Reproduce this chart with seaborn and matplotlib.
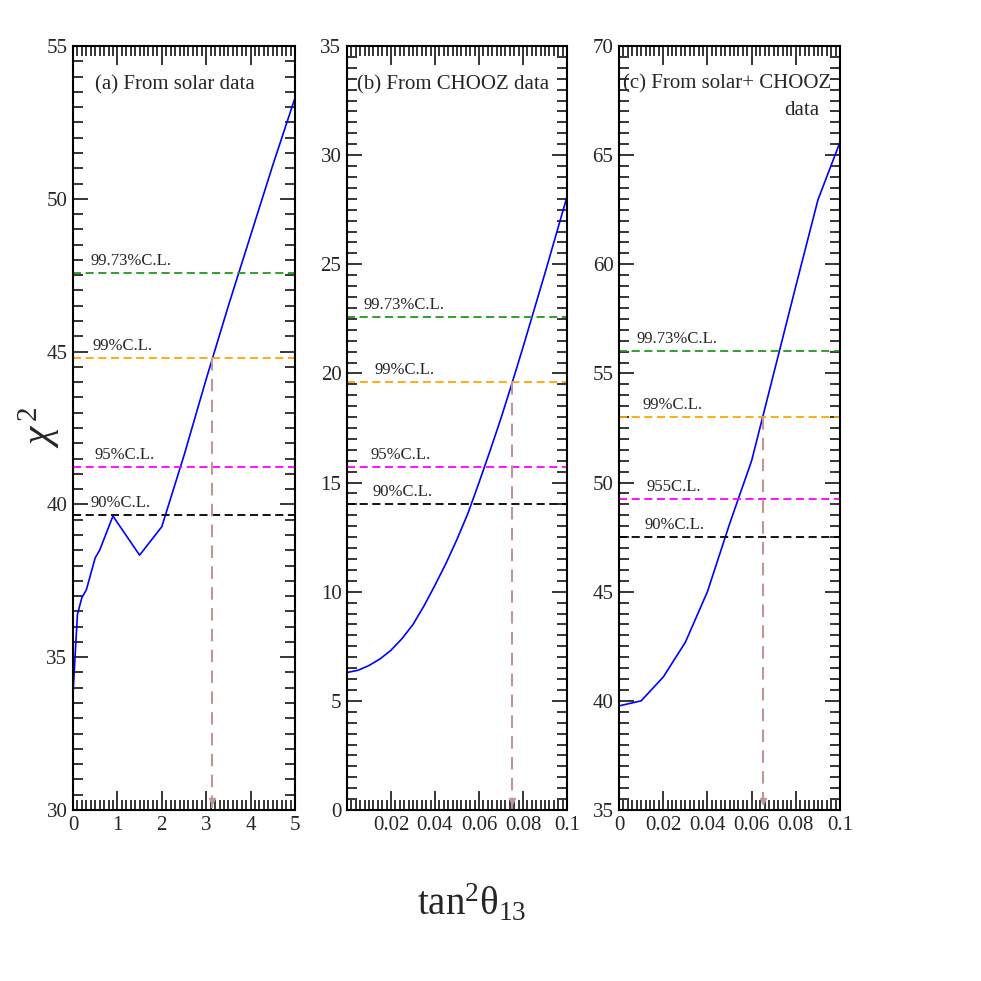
import matplotlib
matplotlib.use("Agg")
import matplotlib.pyplot as plt
import seaborn as sns
from matplotlib.ticker import MultipleLocator, FixedLocator

# (a) from solar data
x_solar = [0.0, 0.1, 0.2, 0.3, 0.5, 0.6, 0.9, 1.5, 2.0, 2.5, 3.0, 3.5, 4.0, 4.5, 5.0]
chi2_solar = [33.8, 36.4, 36.95, 37.2, 38.25, 38.5, 39.62, 38.34, 39.27, 41.6, 44.1, 46.5, 48.8, 51.1, 53.3]
cl_solar = [39.65, 41.23, 44.78, 47.58]
best_solar = 3.14

# (b) from CHOOZ data
x_chooz = [0.0, 0.005, 0.01, 0.015, 0.02, 0.025, 0.03, 0.035, 0.04, 0.045, 0.05,
           0.055, 0.06, 0.065, 0.07, 0.075, 0.08, 0.085, 0.09, 0.095, 0.1]
chi2_chooz = [6.30, 6.40, 6.62, 6.92, 7.32, 7.85, 8.5, 9.35, 10.3, 11.3, 12.4,
              13.6, 15.0, 16.45, 17.95, 19.55, 21.2, 22.9, 24.6, 26.35, 28.1]
cl_chooz = [14.0, 15.7, 19.6, 22.58]
best_chooz = 0.0752

# (c) from solar + CHOOZ data
x_comb = [0.0, 0.01, 0.02, 0.03, 0.04, 0.05, 0.06, 0.07, 0.08, 0.09, 0.1]
chi2_comb = [39.77, 40.0, 41.09, 42.68, 45.0, 48.1, 51.0, 55.0, 59.0, 62.95, 65.6]
cl_comb = [47.52, 49.23, 53.0, 56.03]
best_comb = 0.0653

cl_names = ["90%C.L.", "95%C.L.", "99%C.L.", "99.73%C.L."]
cl_names_comb = ["90%C.L.", "955C.L.", "99%C.L.", "99.73%C.L."]
cl_colors = ["black", "#ff00ff", "#ffa500", "#1f9a1f"]

xt_solar = [0, 1, 2, 3, 4, 5]
xt_chooz = [0.02, 0.04, 0.06, 0.08, 0.1]
xt_comb = [0, 0.02, 0.04, 0.06, 0.08, 0.1]

sns.set_style("ticks")
plt.rcParams["font.family"] = ["Liberation Serif", "DejaVu Serif"]
plt.rcParams["mathtext.fontset"] = "custom"
plt.rcParams["mathtext.rm"] = "Liberation Serif"
plt.rcParams["mathtext.it"] = "Liberation Serif:italic"

fig = plt.figure(figsize=(9.81, 9.81), dpi=100)

panels = [
    dict(rect=[0.0744, 0.1743, 0.2263, 0.7788], x=x_solar, y=chi2_solar, cl=cl_solar,
         names=cl_names, best=best_solar, xlim=(0, 5), ylim=(30, 55),
         xt=xt_solar, xminor=0.1, lab_x=[0.081, 0.095, 0.09, 0.077],
         title=[("(a) From solar data", 0.10, 0.949, "left")]),
    dict(rect=[0.3537, 0.1743, 0.2243, 0.7788], x=x_chooz, y=chi2_chooz, cl=cl_chooz,
         names=cl_names, best=best_chooz, xlim=(0, 0.1), ylim=(0, 35),
         xt=xt_chooz, xminor=0.002, lab_x=[0.118, 0.109, 0.124, 0.075],
         title=[("(b) From CHOOZ data", 0.045, 0.949, "left")]),
    dict(rect=[0.631, 0.1743, 0.2253, 0.7788], x=x_comb, y=chi2_comb, cl=cl_comb,
         names=cl_names_comb, best=best_comb, xlim=(0, 0.1), ylim=(35, 70),
         xt=xt_comb, xminor=0.002, lab_x=[0.115, 0.125, 0.107, 0.08],
         title=[("(c) From solar+ CHOOZ", 0.02, 0.951, "left"),
                ("data", 0.905, 0.916, "right")]),
]

for p in panels:
    ax = fig.add_axes(p["rect"])
    sns.lineplot(x=p["x"], y=p["y"], ax=ax, color="#0000ff", lw=1.2,
                 estimator=None, sort=False)
    for val, name, col, lx in zip(p["cl"], p["names"], cl_colors, p["lab_x"]):
        ax.axhline(val, color=col, ls=(0, (4.5, 2.5)), lw=1.3)
        ax.annotate(name, xy=(lx, val), xycoords=("axes fraction", "data"),
                    xytext=(0, 3), textcoords="offset points",
                    ha="left", va="bottom", fontsize=12)
    # best-fit drop line down to the x axis
    ax.plot([p["best"], p["best"]], [p["cl"][2], p["ylim"][0]], color="#c29595",
            ls=(0, (6, 4)), lw=1.5)
    ax.plot([p["best"]], [p["ylim"][0] + 0.012 * (p["ylim"][1] - p["ylim"][0])],
            marker="v", color="#c29595", ms=5, clip_on=False)
    for txt, tx, ty, ha in p["title"]:
        ax.text(tx, ty, txt, transform=ax.transAxes, ha=ha, va="center", fontsize=15)

    ax.set_xlim(*p["xlim"])
    ax.set_ylim(*p["ylim"])
    ax.xaxis.set_major_locator(FixedLocator(p["xt"]))
    ax.set_xticklabels([f"{v:g}" for v in p["xt"]])
    ax.xaxis.set_minor_locator(MultipleLocator(p["xminor"]))
    ax.yaxis.set_major_locator(MultipleLocator(5))
    ax.yaxis.set_minor_locator(MultipleLocator(0.5))
    ax.tick_params(axis="both", which="both", direction="in", top=True, right=True,
                   labelsize=15, pad=4, width=1.1, color="black")
    ax.tick_params(axis="y", which="major", length=11)
    ax.tick_params(axis="y", which="minor", length=7)
    ax.tick_params(axis="x", which="major", length=14)
    ax.tick_params(axis="x", which="minor", length=7)
    for s in ax.spines.values():
        s.set_linewidth(1.5)
        s.set_color("black")
    ax.set_xlabel("")
    ax.set_ylabel("")

fig.text(0.040, 0.565, r"$\chi^{\,2}$", rotation=90, ha="center", va="center", fontsize=30)
fig.text(0.481, 0.079, r"tan$^{2}$θ$_{13}$", ha="center", va="center", fontsize=28)

fig.savefig("out.png", dpi=100)
